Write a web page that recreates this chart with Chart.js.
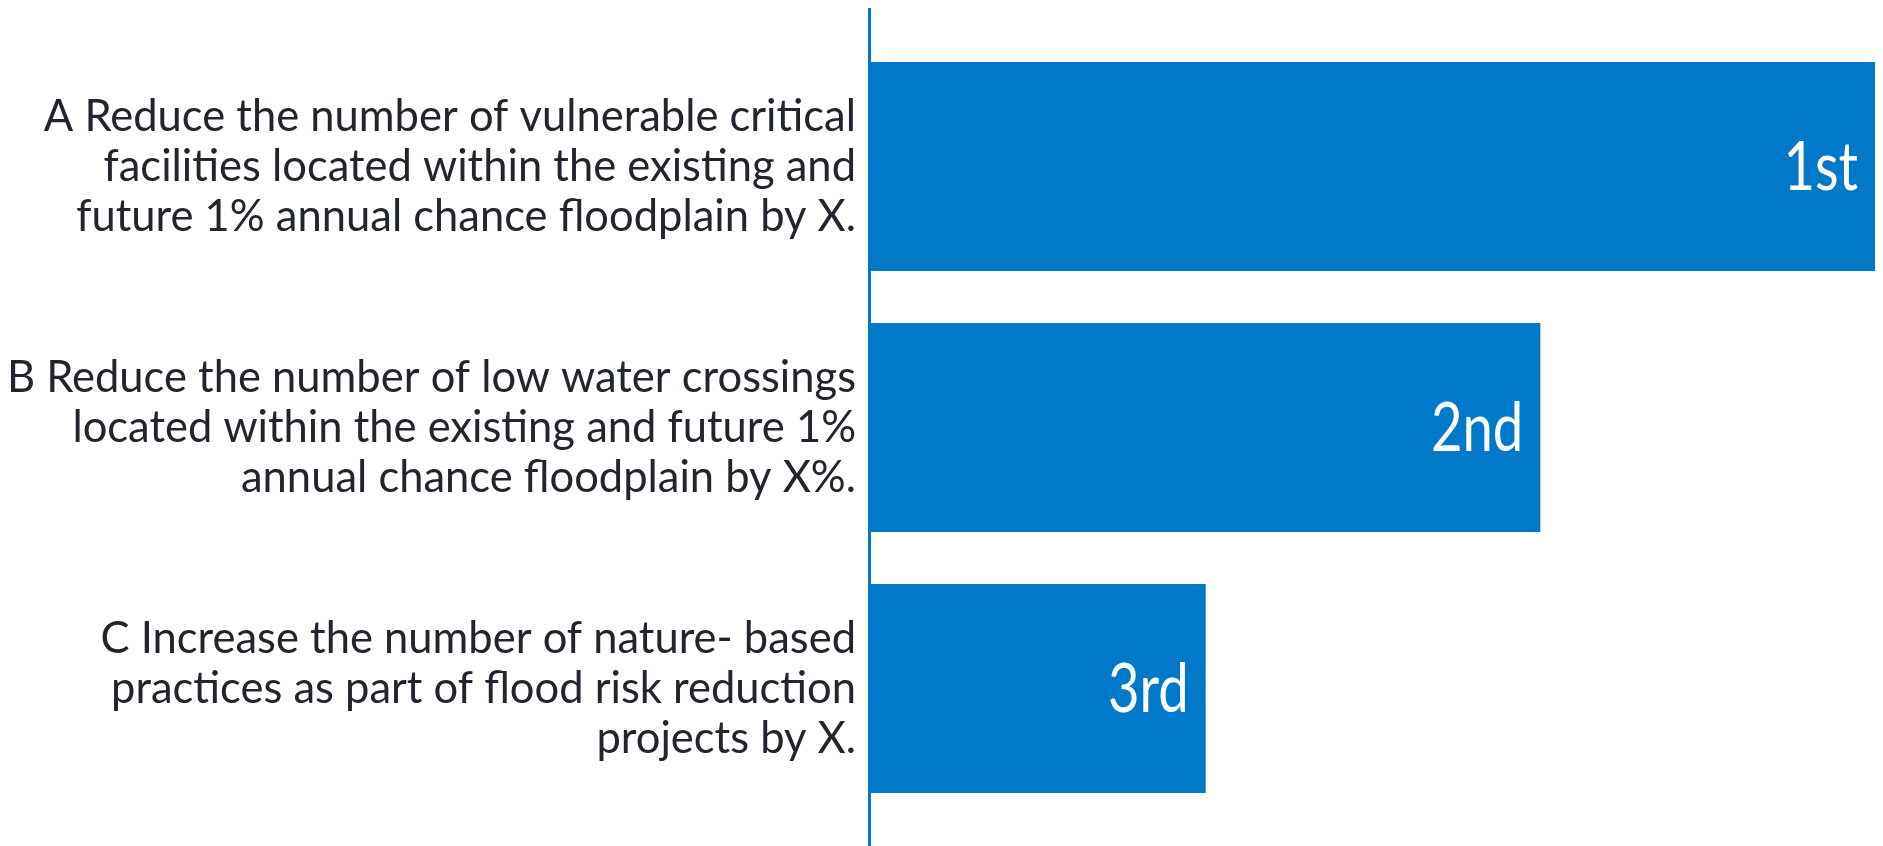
<!DOCTYPE html>
<html>
<head>
<meta charset="utf-8">
<script src="https://cdn.jsdelivr.net/npm/chart.js@4"></script>
<style>
  html, body { margin: 0; padding: 0; background: #fff; }
  #wrap { width: 1883px; height: 846px; }
</style>
</head>
<body>
<div id="wrap"><canvas id="myChart"></canvas></div>
<script>
const categories = [
  ["A Reduce the number of vulnerable critical", "facilities located within the existing and", "future 1% annual chance floodplain by X."],
  ["B Reduce the number of low water crossings", "located within the existing and future 1%", "annual chance floodplain by X%."],
  ["C Increase the number of nature- based", "practices as part of flood risk reduction", "projects by X."]
];
const scores = [3, 2, 1];
const rankLabels = ["1st", "2nd", "3rd"];

const BLUE = "#0079C9";

/* blue axis line, runs past the plot area like in the original */
const axisLine = {
  id: "axisLine",
  afterDraw(chart) {
    const { ctx, chartArea } = chart;
    ctx.save();
    ctx.strokeStyle = BLUE;
    ctx.lineWidth = 3;
    ctx.beginPath();
    ctx.moveTo(chartArea.left - 1.5, 8);
    ctx.lineTo(chartArea.left - 1.5, chart.height);
    ctx.stroke();
    ctx.restore();
  }
};

/* rank text inside the end of each bar (slightly condensed) */
const rankText = {
  id: "rankText",
  afterDatasetsDraw(chart) {
    const { ctx } = chart;
    const meta = chart.getDatasetMeta(0);
    ctx.save();
    ctx.fillStyle = "#ffffff";
    ctx.font = "68px Lato";
    ctx.textAlign = "right";
    ctx.textBaseline = "middle";
    meta.data.forEach((bar, i) => {
      ctx.save();
      ctx.translate(bar.x - 17, bar.y + 2);
      ctx.scale(0.8, 1);
      ctx.fillText(rankLabels[i], 0, 0);
      ctx.restore();
    });
    ctx.restore();
  }
};

new Chart(document.getElementById("myChart"), {
  type: "bar",
  data: {
    labels: categories,
    datasets: [{
      data: scores,
      backgroundColor: BLUE,
      borderWidth: 0,
      barPercentage: 1.0,
      categoryPercentage: 0.8
    }]
  },
  options: {
    indexAxis: "y",
    responsive: true,
    maintainAspectRatio: false,
    animation: false,
    layout: { padding: { top: 36, bottom: 27, right: 8, left: 0 } },
    plugins: {
      legend: { display: false },
      tooltip: { enabled: false }
    },
    scales: {
      x: {
        display: false,
        min: 0,
        max: 3
      },
      y: {
        grid: { display: false, drawTicks: false },
        border: { display: false },
        afterFit(scale) {
          scale.width = 871;
          scale.paddingTop = 0;
          scale.paddingBottom = 0;
        },
        ticks: {
          padding: 15,
          color: "#22252e",
          font: { family: "Lato", size: 43.5, lineHeight: 1.15 }
        }
      }
    }
  },
  plugins: [axisLine, rankText]
});
</script>
</body>
</html>
